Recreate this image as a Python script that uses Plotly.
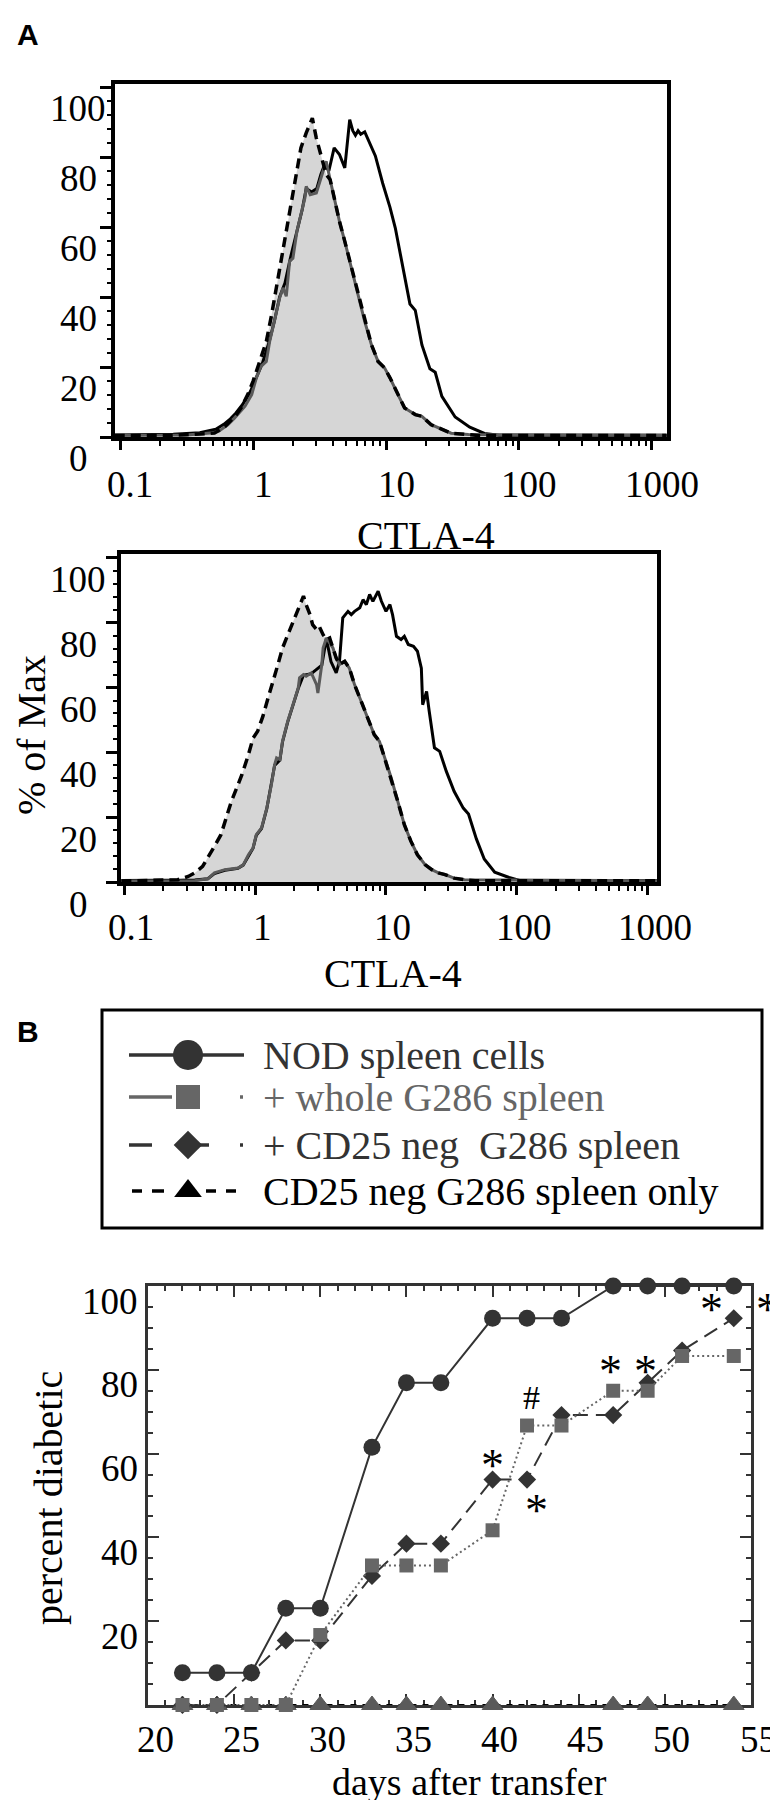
import numpy as np
import plotly.graph_objects as go

# ---------------- DATA ----------------
# Panel A (upper histogram): CTLA-4 intensity given as log10 value, y = % of max
a1_fill_log = [-1.04, -0.64, -0.29, -0.21, -0.16, -0.125, -0.09, -0.04, 0.0, 0.05, 0.10, 0.14, 0.175, 0.21, 0.25,
               0.29, 0.33, 0.36, 0.40, 0.43, 0.446, 0.476, 0.51, 0.55, 0.58, 0.61, 0.65, 0.69, 0.74, 0.79, 0.84,
               0.89, 0.94, 0.99, 1.03, 1.09, 1.14, 1.22, 1.27, 1.34, 1.42, 1.49, 1.62, 1.70, 3.11]
a1_fill_pct = [0.4, 0.4, 1.1, 3.0, 5.0, 6.4, 8.3, 12.1, 15.9, 21.6, 27.3, 35.0, 42.6, 51.1, 59.7,
               68.3, 76.9, 82.6, 86.9, 89.7, 91.1, 85.4, 80.7, 75.0, 73.5, 68.3, 61.6, 55.9, 48.3, 40.7, 33.0,
               26.4, 21.6, 19.7, 16.9, 12.1, 8.3, 6.4, 5.9, 3.5, 2.1, 1.1, 0.7, 0.4, 0.4]

a1_gray_log = [-1.04, -0.5, -0.3, -0.26, -0.19, -0.14, -0.06, -0.01, 0.025, 0.06, 0.10, 0.125, 0.16, 0.20, 0.225,
               0.25, 0.275, 0.30, 0.33, 0.36, 0.39, 0.40, 0.43, 0.476, 0.50, 0.53, 0.55, 0.58, 0.61, 0.65, 0.69,
               0.74, 0.79, 0.84, 0.89, 0.94, 0.99, 1.03, 1.09, 1.14, 1.22, 1.27, 1.34, 1.42, 1.49, 1.62, 3.11]
a1_gray_pct = [0.5, 0.6, 1.2, 1.6, 3.5, 5.4, 8.8, 12.1, 16.9, 20.2, 21.6, 27.3, 33.0, 39.7, 42.6,
               40.2, 50.2, 51.1, 58.8, 63.5, 68.3, 71.6, 69.2, 69.7, 72.6, 76.9, 78.8, 73.5, 68.3, 61.6, 55.9,
               48.3, 40.7, 33.0, 26.4, 21.6, 19.7, 16.9, 12.1, 8.3, 6.4, 5.9, 3.5, 2.1, 1.1, 0.7, 0.5]

a1_black_log = [-1.04, -0.6, -0.4, -0.28, -0.22, -0.17, -0.13, -0.08, -0.02, 0.03, 0.07, 0.12, 0.16, 0.20, 0.24,
                0.28, 0.33, 0.37, 0.40, 0.44, 0.48, 0.51, 0.54, 0.57, 0.61, 0.65, 0.69, 0.727, 0.75, 0.77, 0.79,
                0.81, 0.84, 0.88, 0.92, 0.975, 1.03, 1.07, 1.12, 1.18, 1.22, 1.27, 1.33, 1.37, 1.42, 1.52, 1.63,
                1.74, 1.85, 2.3, 2.7, 3.11]
a1_black_pct = [0.6, 0.8, 1.2, 2.2, 3.6, 5.2, 6.8, 9.2, 13.0, 17.5, 21.0, 27.0, 33.0, 40.0, 44.0,
                51.0, 59.0, 65.0, 71.0, 70.0, 71.0, 75.0, 78.0, 76.0, 82.6, 80.7, 76.9, 90.7, 87.5, 86.2, 87.5,
                86.5, 87.2, 83.5, 80.3, 72.5, 65.6, 59.7, 50.0, 38.0, 36.2, 26.3, 19.5, 18.5, 11.6, 5.7, 2.8,
                1.0, 0.5, 0.5, 0.6, 0.5]

# Panel A (lower histogram)
a2_fill_log = [-1.02, -0.59, -0.51, -0.46, -0.40, -0.36, -0.31, -0.26, -0.22, -0.18, -0.14, -0.10, -0.05, -0.015,
               0.02, 0.06, 0.10, 0.14, 0.175, 0.21, 0.25, 0.29, 0.33, 0.37, 0.39, 0.42, 0.44, 0.47, 0.49, 0.52,
               0.545, 0.57, 0.595, 0.62, 0.645, 0.685, 0.72, 0.76, 0.81, 0.86, 0.91, 0.95, 0.99, 1.04, 1.09,
               1.14, 1.19, 1.24, 1.30, 1.35, 1.40, 1.45, 1.52, 1.60, 1.68, 3.07]
a2_fill_pct = [0.3, 0.7, 1.7, 2.8, 4.8, 7.4, 11.0, 14.6, 19.8, 24.9, 29.0, 33.1, 39.3, 44.4,
               46.5, 51.1, 56.8, 61.9, 67.1, 72.2, 76.3, 80.5, 84.6, 88.2, 85.6, 82.5, 79.4, 77.9, 78.9, 76.3,
               74.8, 75.3, 72.2, 69.1, 67.1, 68.1, 66.0, 60.9, 55.8, 50.6, 45.5, 43.4, 38.3, 32.1, 24.9,
               17.7, 12.6, 8.4, 5.3, 3.8, 2.8, 2.3, 1.2, 0.7, 0.4, 0.4]

a2_gray_log = [-1.02, -0.46, -0.36, -0.31, -0.23, -0.13, -0.09, -0.05, -0.015, 0.01, 0.05, 0.09, 0.125, 0.15,
               0.165, 0.19, 0.21, 0.25, 0.29, 0.33, 0.34, 0.37, 0.39, 0.43, 0.47, 0.48, 0.51, 0.52, 0.545, 0.57,
               0.595, 0.62, 0.645, 0.685, 0.72, 0.76, 0.81, 0.86, 0.91, 0.95, 0.99, 1.04, 1.09, 1.14, 1.19,
               1.24, 1.30, 1.35, 1.40, 1.45, 1.52, 1.60, 3.07]
a2_gray_pct = [0.3, 0.4, 1.0, 2.8, 3.8, 4.3, 5.3, 8.4, 10.5, 14.6, 16.7, 22.8, 30.0, 36.2,
               38.3, 37.8, 43.4, 49.6, 54.7, 59.9, 63.0, 64.0, 63.5, 64.5, 60.9, 58.3, 67.1, 72.2, 75.3, 73.8,
               72.2, 69.1, 67.1, 68.1, 66.0, 60.9, 55.8, 50.6, 45.5, 43.4, 38.3, 32.1, 24.9, 17.7, 12.6,
               8.4, 5.3, 3.8, 2.8, 2.3, 1.2, 0.7, 0.4]

a2_black_log = [-1.02, -0.46, -0.36, -0.31, -0.23, -0.13, -0.09, -0.05, -0.015, 0.01, 0.05, 0.09, 0.125, 0.15,
                0.19, 0.21, 0.25, 0.29, 0.33, 0.37, 0.43, 0.51, 0.545, 0.58, 0.62, 0.645, 0.67, 0.71, 0.735,
                0.76, 0.80, 0.825, 0.85, 0.875, 0.90, 0.94, 0.965, 1.0, 1.03, 1.05, 1.08, 1.115, 1.14, 1.17,
                1.21, 1.24, 1.27, 1.28, 1.31, 1.33, 1.37, 1.41, 1.46, 1.52, 1.59, 1.63, 1.69, 1.75, 1.83,
                1.94, 2.02, 3.07]
a2_black_pct = [0.5, 0.6, 1.0, 2.6, 3.6, 4.2, 5.2, 8.2, 10.4, 14.4, 16.5, 22.6, 29.8, 36.0,
                37.6, 43.2, 49.4, 54.5, 59.7, 63.8, 64.3, 66.9, 75.1, 68.0, 64.5, 68.1, 81.5, 83.5, 82.5,
                83.5, 84.6, 87.1, 85.6, 88.7, 86.6, 89.7, 86.6, 83.5, 85.6, 82.5, 75.8, 74.8, 75.8, 73.3,
                72.7, 71.2, 66.0, 54.7, 58.8, 52.7, 41.4, 40.3, 34.2, 28.0, 22.8, 21.0, 13.3, 7.1, 3.0,
                1.4, 0.5, 0.5]

a_x_ticks = [0.1, 1, 10, 100, 1000]
a_x_ticktext = ["0.1", "1", "10", "100", "1000"]
a_y_ticks = [0, 20, 40, 60, 80, 100]

# Panel B: percent diabetic vs days after transfer
days = [22, 24, 26, 28, 30, 33, 35, 37, 40, 42, 44, 47, 49, 51, 54]
nod_pct = [7.7, 7.7, 7.7, 23.1, 23.1, 61.5, 76.9, 76.9, 92.3, 92.3, 92.3, 100, 100, 100, 100]
whole_pct = [0, 0, 0, 0, 16.7, 33.3, 33.3, 33.3, 41.7, 66.7, 66.7, 75, 75, 83.3, 83.3]
cd25neg_pct = [0, 0, 7.7, 15.4, 15.4, 30.8, 38.5, 38.5, 53.8, 53.8, 69.2, 69.2, 76.9, 84.6, 92.3]
only_days = [22, 24, 26, 28, 30, 33, 35, 37, 40, 47, 49, 54]
only_pct = [0, 0, 0, 0, 0, 0, 0, 0, 0, 0, 0, 0]
b_x_ticks = [20, 25, 30, 35, 40, 45, 50, 55]
b_y_ticks = [20, 40, 60, 80, 100]
# significance marks: (symbol, day, percent)
sig_text = ["#", "*", "*", "*", "*", "*"]
sig_day = [42.24, 40.02, 42.54, 46.87, 48.88, 52.71]
sig_pct = [73.5, 58.5, 47.9, 81.1, 81.1, 95.9]
sig_out_day, sig_out_pct = 55.93, 95.9   # star just outside the right border

legend_labels = ["NOD spleen cells", "+ whole G286 spleen", "+ CD25 neg  G286 spleen", "CD25 neg G286 spleen only"]

# ---------------- FIGURE ----------------
W, H = 778, 1800
SERIF = "Liberation Serif, Times New Roman, serif"
SANS = "Liberation Sans, Arial, sans-serif"
DARK = "#333333"
GRAY = "#666666"


def px(xp):
    return xp / W


def py(yp):
    return 1 - yp / H


fig = go.Figure()


def hist_traces(xa, ya, fl, fp, gl, gp, bl, bp):
    fx = np.power(10.0, fl)
    fig.add_trace(go.Scatter(x=fx, y=fp, mode="lines", fill="tozeroy", fillcolor="#d6d6d6",
                             line=dict(width=0, color="#d6d6d6"), xaxis=xa, yaxis=ya, hoverinfo="skip"))
    fig.add_trace(go.Scatter(x=np.power(10.0, bl), y=bp, mode="lines",
                             line=dict(color="black", width=3), xaxis=xa, yaxis=ya))
    fig.add_trace(go.Scatter(x=np.power(10.0, gl), y=gp, mode="lines",
                             line=dict(color="#5a5a5a", width=3), xaxis=xa, yaxis=ya))
    fig.add_trace(go.Scatter(x=fx, y=fp, mode="lines",
                             line=dict(color="black", width=3.5, dash="10px,6px"), xaxis=xa, yaxis=ya))


hist_traces("x", "y", a1_fill_log, a1_fill_pct, a1_gray_log, a1_gray_pct, a1_black_log, a1_black_pct)
hist_traces("x2", "y2", a2_fill_log, a2_fill_pct, a2_gray_log, a2_gray_pct, a2_black_log, a2_black_pct)

# Panel B series
fig.add_trace(go.Scatter(x=only_days, y=only_pct, mode="lines", cliponaxis=False,
                         line=dict(color="black", width=2, dash="6px,6px"), xaxis="x3", yaxis="y3"))
fig.add_trace(go.Scatter(x=only_days, y=only_pct, mode="markers", cliponaxis=False,
                         marker=dict(symbol="triangle-up", size=18, color="#5a5a5a",
                                     line=dict(width=1, color="#5a5a5a")),
                         xaxis="x3", yaxis="y3"))
fig.add_trace(go.Scatter(x=days, y=cd25neg_pct, mode="lines+markers", cliponaxis=False,
                         line=dict(color=DARK, width=2, dash="15px,8px"),
                         marker=dict(symbol="diamond", size=14, color=DARK), xaxis="x3", yaxis="y3"))
fig.add_trace(go.Scatter(x=days, y=whole_pct, mode="lines+markers", cliponaxis=False,
                         line=dict(color=GRAY, width=2, dash="2px,3px"),
                         marker=dict(symbol="square", size=14, color=GRAY), xaxis="x3", yaxis="y3"))
fig.add_trace(go.Scatter(x=days, y=nod_pct, mode="lines+markers", cliponaxis=False,
                         line=dict(color=DARK, width=2),
                         marker=dict(symbol="circle", size=17, color=DARK), xaxis="x3", yaxis="y3"))

# Legend samples (drawn on a hidden pixel-space overlay axis)
row_y = [1047, 1089, 1137, 1183]
leg_colors = [DARK, GRAY, DARK, "black"]
leg_symbols = ["circle", "square", "diamond", "triangle-up"]
leg_sizes = [30, 24, 22, 24]
seg = [
    [(121, 236)],
    [(121, 164), (232, 235)],
    [(121, 144), (191, 201), (232, 235)],
    [(124, 134), (144, 156), (198, 208), (218, 228)],
]
for i in range(4):
    for (a, b) in seg[i]:
        fig.add_trace(go.Scatter(x=[a, b], y=[row_y[i], row_y[i]], mode="lines",
                                 line=dict(color=leg_colors[i], width=3.5), xaxis="x4", yaxis="y4"))
    fig.add_trace(go.Scatter(x=[180], y=[row_y[i]], mode="markers",
                             marker=dict(symbol=leg_symbols[i], size=leg_sizes[i], color=leg_colors[i]),
                             xaxis="x4", yaxis="y4"))

common_a = dict(showgrid=False, zeroline=False, showline=True, linecolor="black", linewidth=4, mirror=True,
                ticks="outside", tickcolor="black", showticklabels=False)

fig.update_layout(
    width=W, height=H, margin=dict(l=0, r=0, t=0, b=0),
    paper_bgcolor="white", plot_bgcolor="rgba(0,0,0,0)", showlegend=False,
    xaxis=dict(domain=[px(107), px(659)], anchor="y", type="log", range=[-1.038, 3.113],
               tickvals=a_x_ticks, ticklen=9, tickwidth=3,
               minor=dict(dtick="D1", ticks="outside", ticklen=5, tickwidth=2, tickcolor="black", showgrid=False),
               **common_a),
    yaxis=dict(domain=[py(429), py(76)], anchor="x", range=[0, 100.86], tickvals=a_y_ticks,
               ticklen=11, tickwidth=3,
               minor=dict(dtick=4, ticks="outside", ticklen=4, tickwidth=2, tickcolor="black", showgrid=False),
               **common_a),
    xaxis2=dict(domain=[px(113), px(649)], anchor="y2", type="log", range=[-1.023, 3.069],
                tickvals=a_x_ticks, ticklen=9, tickwidth=3,
                minor=dict(dtick="D1", ticks="outside", ticklen=5, tickwidth=2, tickcolor="black", showgrid=False),
                **common_a),
    yaxis2=dict(domain=[py(874), py(546)], anchor="x2", range=[0, 101.2], tickvals=a_y_ticks,
                ticklen=11, tickwidth=3,
                minor=dict(dtick=4, ticks="outside", ticklen=4, tickwidth=2, tickcolor="black", showgrid=False),
                **common_a),
    xaxis3=dict(domain=[px(140), px(743)], anchor="y3", range=[20, 55], showgrid=False, zeroline=False,
                showline=True, linecolor=DARK, linewidth=2.5, mirror="ticks", ticks="inside", layer="below traces",
                tick0=20, dtick=5, ticklen=11, tickwidth=2, tickcolor=DARK, showticklabels=False,
                minor=dict(dtick=1, ticks="inside", ticklen=5, tickwidth=2, tickcolor=DARK, showgrid=False)),
    yaxis3=dict(domain=[py(1697), py(1278)], anchor="x3", range=[0, 100], showgrid=False, zeroline=False,
                showline=True, linecolor=DARK, linewidth=2.5, mirror="ticks", ticks="inside", layer="below traces",
                tick0=0, dtick=20, ticklen=11, tickwidth=2, tickcolor=DARK, showticklabels=False,
                minor=dict(dtick=5, ticks="inside", ticklen=5, tickwidth=2, tickcolor=DARK, showgrid=False)),
    xaxis4=dict(domain=[0, 1], anchor="y4", range=[0, W], visible=False, fixedrange=True),
    yaxis4=dict(domain=[0, 1], anchor="x4", range=[H, 0], visible=False, fixedrange=True),
)

# legend box
fig.add_shape(type="rect", xref="x4", yref="y4", x0=94, x1=754, y0=1002, y1=1220,
              line=dict(color="black", width=3), fillcolor="rgba(0,0,0,0)")

ann = []
tick_font = dict(family=SERIF, size=37, color="black")

# panel A tick labels
for xa, ya, xs_y, ys_y, ys_x, xs_x in [("x", "y", -37, -21, -48, 10), ("x2", "y2", -43, -22, -46, 7)]:
    for v in a_y_ticks:
        ann.append(dict(text=str(v), xref=xa + " domain", x=0, xshift=xs_y, xanchor="center",
                        yref=ya, y=v, yshift=ys_y, yanchor="middle", showarrow=False, font=tick_font))
    for v, t in zip(a_x_ticks, a_x_ticktext):
        ann.append(dict(text=t, xref=xa, x=np.log10(v), xshift=xs_x, xanchor="center",
                        yref=ya + " domain", y=0, yshift=ys_x, yanchor="middle", showarrow=False, font=tick_font))

# panel B tick labels
for v in b_y_ticks:
    ann.append(dict(text=str(v), xref="x3 domain", x=0, xshift=-8, xanchor="right",
                    yref="y3", y=v, yshift=-15, yanchor="middle", showarrow=False, font=tick_font))
for v in b_x_ticks:
    ann.append(dict(text=str(v), xref="x3", x=v, xshift=7, xanchor="center",
                    yref="y3 domain", y=0, yshift=-34, yanchor="middle", showarrow=False, font=tick_font))

# significance marks
for t, d, p in zip(sig_text, sig_day, sig_pct):
    ann.append(dict(text=t, xref="x3", x=d, yref="y3", y=p, yshift=(-6 if t == "*" else 0),
                    xanchor="center", yanchor="middle",
                    showarrow=False, font=dict(family=SERIF, size=(46 if t == "*" else 34), color="black")))
ann.append(dict(text="*", xref="x3 domain", x=(sig_out_day - 20) / 35, yref="y3", y=sig_out_pct, yshift=-6,
                xanchor="center", yanchor="middle",
                showarrow=False, font=dict(family=SERIF, size=46, color="black")))

# titles
title_font = dict(family=SERIF, size=40, color="black")
C = dict(xref="paper", yref="paper", xanchor="center", yanchor="middle", showarrow=False)
ann += [
    dict(text="CTLA-4", x=px(418), y=py(527), font=title_font, **C),
    dict(text="CTLA-4", x=px(385), y=py(965), font=title_font, **C),
    dict(text="% of Max", x=px(23), y=py(727), textangle=-90, font=title_font, **C),
    dict(text="percent diabetic", x=px(40), y=py(1490), textangle=-90, font=title_font, **C),
    dict(text="days after transfer", x=px(461), y=py(1774), font=dict(family=SERIF, size=38, color="black"), **C),
    dict(text="<b>A</b>", x=px(20), y=py(26), font=dict(family=SANS, size=30, color="black"), **C),
    dict(text="<b>B</b>", x=px(20), y=py(1023), font=dict(family=SANS, size=30, color="black"), **C),
]
# legend texts
for i, lab in enumerate(legend_labels):
    ann.append(dict(text=lab, xref="x4", yref="y4", x=253, y=row_y[i], xanchor="left", yanchor="middle",
                    showarrow=False, font=dict(family=SERIF, size=40, color=leg_colors[i])))

fig.update_layout(annotations=ann)
fig.write_html("out.html")
